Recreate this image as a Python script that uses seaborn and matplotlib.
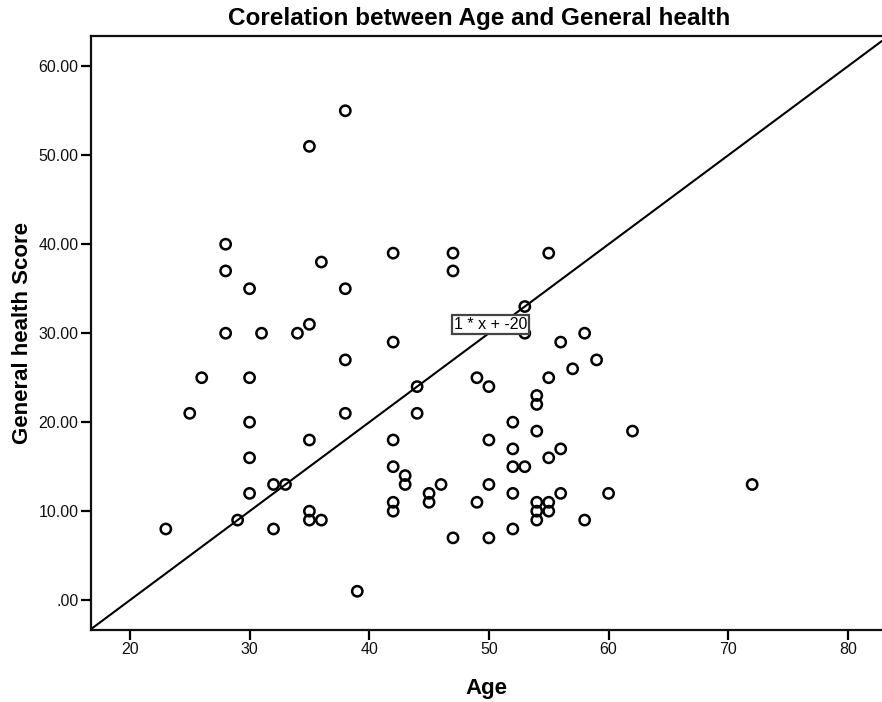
import matplotlib
matplotlib.use("Agg")
import matplotlib.pyplot as plt
import seaborn as sns
import pandas as pd

# Age vs General health score
age = [23, 25, 26, 28, 28, 28, 29, 30, 30, 30, 30, 30, 31, 32, 32, 33, 34,
       35, 35, 35, 35, 35, 36, 36, 38, 38, 38, 38, 39,
       42, 42, 42, 42, 42, 42, 43, 43, 44, 44, 45, 45, 46,
       47, 47, 47, 49, 49, 50, 50, 50, 50,
       52, 52, 52, 52, 52, 53, 53, 53,
       54, 54, 54, 54, 54, 54, 55, 55, 55, 55, 55,
       56, 56, 56, 57, 58, 58, 59, 60, 62, 72]
score = [8, 21, 25, 40, 37, 30, 9, 35, 25, 20, 16, 12, 30, 13, 8, 13, 30,
         51, 31, 18, 10, 9, 38, 9, 55, 35, 27, 21, 1,
         39, 29, 18, 15, 11, 10, 14, 13, 24, 21, 12, 11, 13,
         39, 37, 7, 25, 11, 24, 18, 13, 7,
         20, 17, 15, 12, 8, 33, 30, 15,
         23, 22, 19, 11, 10, 9, 39, 25, 16, 11, 10,
         29, 17, 12, 26, 30, 9, 27, 12, 19, 13]

x_ticks = [20, 30, 40, 50, 60, 70, 80]
y_ticks = [0, 10, 20, 30, 40, 50, 60]
y_ticklabels = [".00", "10.00", "20.00", "30.00", "40.00", "50.00", "60.00"]

# reference line y = 1 * x + -20
line_slope = 1
line_intercept = -20
line_label = "1 * x + -20"

df = pd.DataFrame({"Age": age, "General health Score": score})

sns.set_style("white")
plt.rcParams["font.family"] = ["Liberation Sans", "DejaVu Sans"]
plt.rcParams["text.color"] = "black"
plt.rcParams["axes.labelcolor"] = "black"

fig = plt.figure(figsize=(8.82, 7.02), dpi=100)
ax = fig.add_axes([0.1032, 0.1026, 0.8968, 0.8461])

ax.axline((0, line_intercept), slope=line_slope, color="black", lw=1.5, zorder=2)

sns.scatterplot(data=df, x="Age", y="General health Score", ax=ax,
                marker="o", s=55, facecolor="none", edgecolor="black",
                linewidth=1.8, zorder=3)

ax.text(47.1, 31.0, line_label, fontsize=11.5, ha="left", va="center", zorder=4,
        bbox=dict(boxstyle="square,pad=0.12", fc="white", ec="#444444", lw=1.6))

ax.set_xlim(16.75, 82.85)
ax.set_ylim(-3.35, 63.4)
ax.set_xticks(x_ticks)
ax.set_yticks(y_ticks)
ax.set_yticklabels(y_ticklabels)
ax.tick_params(bottom=True, left=True, direction="out", length=7.5, width=1.6,
               labelsize=11.5, colors="black", labelcolor="#111111", pad=1.5)

for side in ["left", "bottom", "top"]:
    ax.spines[side].set_linewidth(1.6)
    ax.spines[side].set_color("#111111")
ax.spines["right"].set_visible(False)

ax.set_xlabel("Age", fontsize=16, fontweight="bold", labelpad=15)
ax.set_ylabel("General health Score", fontsize=16, fontweight="bold", labelpad=4)
fig.text(0.543, 0.973, "Corelation between Age and General health",
         fontsize=17.5, fontweight="bold", ha="center", va="center")

fig.savefig("out.png", dpi=100)
